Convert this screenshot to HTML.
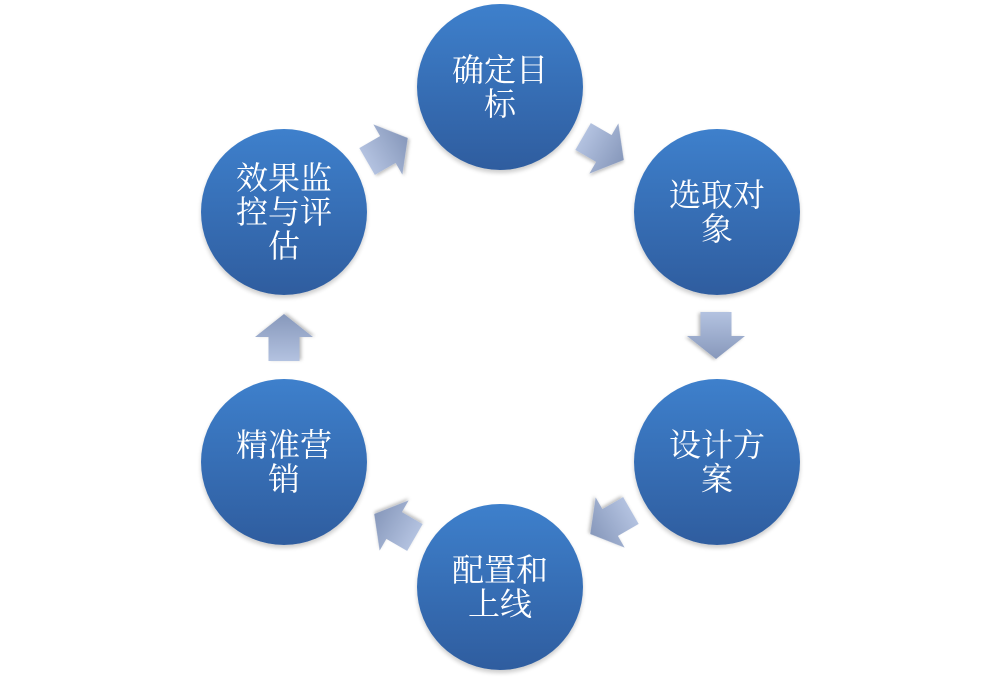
<!DOCTYPE html>
<html><head><meta charset="utf-8"><style>
html,body{margin:0;padding:0;background:#fff;}
body{width:1000px;height:681px;position:relative;overflow:hidden;}
.c{position:absolute;width:166px;height:166px;border-radius:50%;background:linear-gradient(#3e80cc,#2f5d9f);display:flex;align-items:center;justify-content:center;text-align:center;color:#fff;font-family:"Liberation Serif","Noto Serif CJK SC",serif;font-size:32px;line-height:34px;box-shadow:0 3px 4px rgba(0,0,0,0.2);}
.c span{display:block;width:100px;}
svg{position:absolute;left:0;top:0;}
</style></head><body>
<svg width="1000" height="681">
<defs>
<linearGradient id="g" x1="-23" y1="0" x2="24" y2="0" gradientUnits="userSpaceOnUse">
<stop offset="0" stop-color="#b3c2e0"/><stop offset="1" stop-color="#8798bb"/>
</linearGradient>
<filter id="s"><feDropShadow dx="1" dy="2" stdDeviation="1.5" flood-opacity="0.25"/></filter>
<g id="a"><polygon points="-23,-15.5 1,-15.5 1,-29 24,0 1,29 1,15.5 -23,15.5" fill="url(#g)" filter="url(#s)"/></g>
</defs>
<use href="#a" transform="translate(603,148) rotate(30)"/>
<use href="#a" transform="translate(716,335) rotate(90)"/>
<use href="#a" transform="translate(611,522) rotate(150)"/>
<use href="#a" transform="translate(395,526) rotate(210)"/>
<use href="#a" transform="translate(284,338) rotate(-90)"/>
<use href="#a" transform="translate(387,150) rotate(-30)"/>
</svg>
<div class="c" style="left:417px;top:4px"><span>确定目标</span></div>
<div class="c" style="left:634px;top:129px"><span>选取对象</span></div>
<div class="c" style="left:634px;top:379px"><span>设计方案</span></div>
<div class="c" style="left:417px;top:504px"><span>配置和上线</span></div>
<div class="c" style="left:201px;top:379px"><span>精准营销</span></div>
<div class="c" style="left:201px;top:129px"><span>效果监控与评估</span></div>
</body></html>
